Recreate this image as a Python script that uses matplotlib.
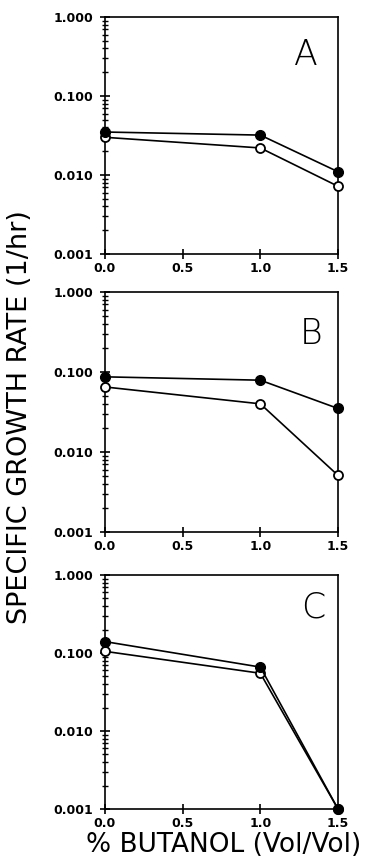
import matplotlib
matplotlib.use('Agg')
import matplotlib.pyplot as plt
from matplotlib.ticker import LogLocator, FixedLocator, NullFormatter

butanol = [0.0, 1.0, 1.5]

a_filled = [0.035, 0.032, 0.011]
a_open = [0.030, 0.022, 0.0072]
b_filled = [0.087, 0.079, 0.035]
b_open = [0.065, 0.040, 0.0051]
c_filled = [0.140, 0.066, 0.001]
c_open = [0.105, 0.055, 0.001]

panel_letters = ['A', 'B', 'C']
y_ticks = [0.001, 0.01, 0.1, 1.0]
y_ticklabels = ['0.001', '0.010', '0.100', '1.000']
x_ticks = [0.0, 0.5, 1.0, 1.5]
x_ticklabels = ['0.0', '0.5', '1.0', '1.5']

W, H = 367, 866
fig = plt.figure(figsize=(W / 100, H / 100), dpi=100)

# pixel boxes (top, bottom) of each panel
boxes = [(17, 254), (292, 532), (575, 809)]
letter_pos = [(0.86, 0.84), (0.885, 0.825), (0.895, 0.86)]
series = [(a_filled, a_open), (b_filled, b_open), (c_filled, c_open)]
left, right = 105, 338

for (top, bot), (filled, opened), letter, lp in zip(boxes, series, panel_letters, letter_pos):
    ax = fig.add_axes([left / W, 1 - bot / H, (right - left) / W, (bot - top) / H])
    ax.set_yscale('log')
    ax.set_xlim(0, 1.5)
    ax.set_ylim(0.001, 1.0)

    ax.plot(butanol, opened, '-', color='black', lw=1.2, marker='o', ms=6.5,
            mfc='white', mec='black', mew=1.3, clip_on=False, zorder=3)
    ax.plot(butanol, filled, '-', color='black', lw=1.2, marker='o', ms=7,
            mfc='black', mec='black', clip_on=False, zorder=4)

    ax.yaxis.set_major_locator(FixedLocator(y_ticks))
    ax.set_yticklabels(y_ticklabels)
    ax.yaxis.set_minor_locator(LogLocator(base=10, subs=range(2, 10)))
    ax.yaxis.set_minor_formatter(NullFormatter())
    ax.set_xticks(x_ticks)
    ax.set_xticklabels(x_ticklabels)

    ax.tick_params(axis='both', which='major', direction='inout', length=7, width=1.2,
                   labelsize=9, top=False, right=False)
    ax.tick_params(axis='x', which='major', pad=2)
    ax.tick_params(axis='y', which='major', pad=5)
    ax.tick_params(axis='y', which='minor', direction='inout', length=4, width=1.0, right=False)
    for lab in ax.get_xticklabels() + ax.get_yticklabels():
        lab.set_fontweight('bold')
    for sp in ax.spines.values():
        sp.set_linewidth(1.2)

    ax.text(lp[0], lp[1], letter, transform=ax.transAxes, fontsize=25,
            fontweight=200, ha='center', va='center')

fig.text(20 / W, 1 - 417 / H, 'SPECIFIC GROWTH RATE (1/hr)', rotation=90,
         ha='center', va='center', fontsize=19.5)
fig.text(224 / W, 1 - 845 / H, '% BUTANOL (Vol/Vol)', ha='center', va='center',
         fontsize=19)

fig.savefig('out.png', dpi=100)
